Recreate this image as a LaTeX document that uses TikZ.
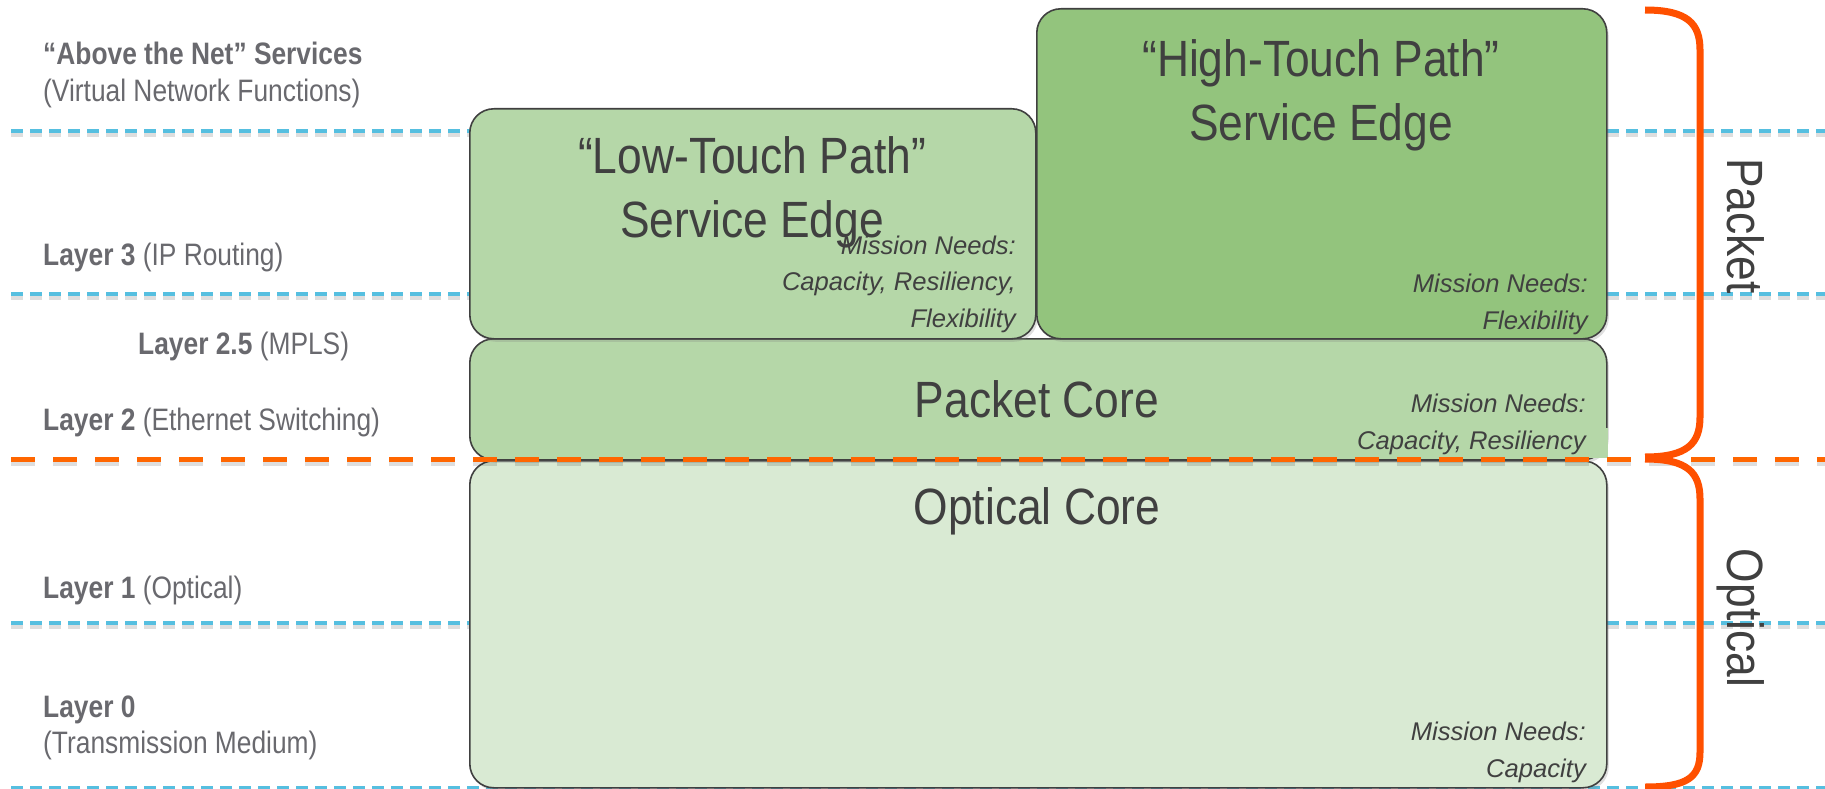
\documentclass[tikz,border=0pt]{standalone}
\usepackage{fontspec}
\setmainfont{Liberation Sans}
\newfontfamily\narrowfont{Liberation Sans}[FakeStretch=0.85]
\newfontfamily\titlefont{Liberation Sans}[FakeStretch=0.87]
\usetikzlibrary{shadows}
\definecolor{layerblue}{HTML}{56BFE0}
\definecolor{cutorange}{HTML}{FF6600}
\definecolor{braceorange}{HTML}{FF5000}
\definecolor{edgegreen}{HTML}{B5D7A8}
\definecolor{highgreen}{HTML}{93C47D}
\definecolor{opticgreen}{HTML}{D9EAD3}
\definecolor{labelgray}{HTML}{69696E}
\definecolor{inkgray}{HTML}{404040}
\tikzset{
  layerline/.style = {layerblue, line width=3.2pt, dash pattern=on 11.5pt off 7.5pt},
  cutline/.style = {cutorange, line width=5pt, dash pattern=on 24pt off 18pt},
  lineshadow/.style = {black, opacity=0.13, yshift=-4pt},
  block/.style = {
    draw=inkgray, line width=1.6pt, rounded corners=24pt,
    anchor=north west, inner sep=0pt,
    drop shadow={shadow xshift=2pt, shadow yshift=-3pt, opacity=0.25}
  },
  layerlabel/.style = {anchor=base west, inner sep=0pt, text=labelgray,
    font=\narrowfont\fontsize{31}{37}\selectfont},
  title/.style = {text=inkgray, align=center, inner sep=0pt,
    font=\titlefont\fontsize{51}{64}\selectfont},
  needs/.style = {text=inkgray, align=right, inner sep=0pt, anchor=south east,
    font=\itshape\fontsize{25.6}{36.5}\selectfont},
  bracket/.style = {braceorange, line width=7pt},
  side/.style = {text=inkgray, rotate=-90, anchor=base, inner sep=0pt,
    font=\titlefont\fontsize{51}{60}\selectfont}
}

\begin{document}
\begin{tikzpicture}[x=1pt, y=-1pt]
    \useasboundingbox (0,0) rectangle (1825,789);

    % layer boundaries
    \foreach \y in {131,294,623,788} {
      \draw[layerline, lineshadow] (11,\y) -- (1825,\y);
      \draw[layerline] (11,\y) -- (1825,\y);
    }

    % layer names
    \node[layerlabel] (abovenet) at (43,65) {\bfseries “Above the Net” Services};
    \node[layerlabel] (vnf) at (43,102) {(Virtual Network Functions)};
    \node[layerlabel] (layerthree) at (43,265) {\textbf{Layer 3} (IP Routing)};
    \node[layerlabel] (layertwofive) at (138,354) {\textbf{Layer 2.5} (MPLS)};
    \node[layerlabel] (layertwo) at (43,430) {\textbf{Layer 2} (Ethernet Switching)};
    \node[layerlabel] (layerone) at (43,598) {\textbf{Layer 1} (Optical)};
    \node[layerlabel] (layerzero) at (43,717) {\textbf{Layer 0}};
    \node[layerlabel] (medium) at (43,753) {(Transmission Medium)};

    % blocks
    \node[block, fill=opticgreen, minimum width=1137pt, minimum height=327pt] (opticalcore) at (469,460) {};
    \node[block, fill=edgegreen, minimum width=1137pt, minimum height=121pt] (packetcore) at (469,338) {};
    \fill[edgegreen] (1575,428) rectangle (1607.5,458);
    \node[block, fill=edgegreen, minimum width=566pt, minimum height=230pt] (lowedge) at (469,108) {};
    \node[block, fill=highgreen, minimum width=570pt, minimum height=330pt] (highedge) at (1036,8) {};

    % packet / optical split
    \draw[cutline, lineshadow] (11,459) -- (1825,459);
    \draw[cutline] (11,459) -- (1825,459);

    \node[title, anchor=south] (lowtitle) at (752,248) {“Low-Touch Path”\\Service Edge};
    \node[title, anchor=south] (hightitle) at (1321,151) {“High-Touch Path”\\Service Edge};
    \node[title, anchor=base] (packettitle) at (1037,417) {Packet Core};
    \node[title, anchor=base] (opticaltitle) at (1037,524) {Optical Core};

    \node[needs] (lowneeds) at (1016,333) {Mission Needs:\\Capacity, Resiliency,\\Flexibility};
    \node[needs] (highneeds) at (1588,335) {Mission Needs:\\Flexibility};
    \node[needs] (packetneeds) at (1586,455) {Mission Needs:\\Capacity, Resiliency};
    \node[needs] (opticalneeds) at (1586,783) {Mission Needs:\\Capacity};

    % braces
    \draw[bracket] (1645,10) .. controls (1688,10) and (1700,24) .. (1700,50)
      -- (1700,417) .. controls (1700,443) and (1688,457) .. (1645,457);
    \draw[bracket] (1645,459) .. controls (1688,459) and (1700,473) .. (1700,499)
      -- (1700,752) .. controls (1700,777) and (1688,787) .. (1645,787);
    \node[side] (packetside) at (1727,226) {Packet};
    \node[side] (opticalside) at (1727,618) {Optical};
\end{tikzpicture}
\end{document}
